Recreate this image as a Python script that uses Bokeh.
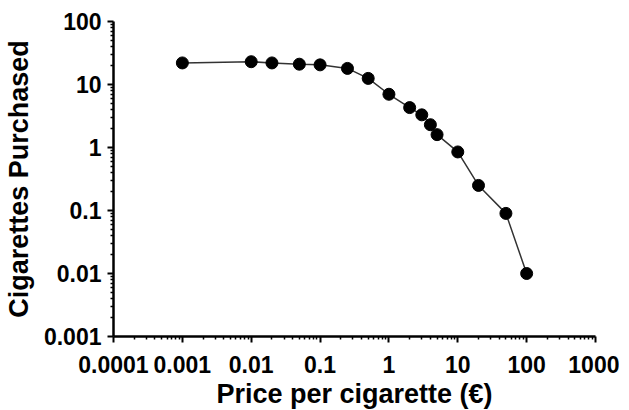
from bokeh.plotting import figure
from bokeh.models import FixedTicker, ColumnDataSource
from bokeh.embed import file_html
from bokeh.resources import INLINE

# Data
price = [0.001, 0.01, 0.02, 0.05, 0.1, 0.25, 0.5, 1, 2, 3, 4, 5, 10, 20, 50, 100]
cigarettes = [22, 23, 22, 21, 20.5, 18, 12.5, 7, 4.3, 3.3, 2.3, 1.6, 0.85, 0.25, 0.09, 0.01]

x_ticks = [0.0001, 0.001, 0.01, 0.1, 1, 10, 100, 1000]
x_labels = ["0.0001", "0.001", "0.01", "0.1", "1", "10", "100", "1000"]
y_ticks = [0.001, 0.01, 0.1, 1, 10, 100]
y_labels = ["0.001", "0.01", "0.1", "1", "10", "100"]

x_title = "Price per cigarette (€)"
y_title = "Cigarettes Purchased"

def minors(ticks):
    out = []
    for t in ticks[:-1]:
        out += [t * k for k in range(2, 10)]
    return out

src = ColumnDataSource(dict(x=price, y=cigarettes))

p = figure(
    frame_width=482, frame_height=315,
    x_axis_type="log", y_axis_type="log",
    x_range=(x_ticks[0], x_ticks[-1]), y_range=(y_ticks[0], y_ticks[-1]),
    output_backend="svg", toolbar_location=None,
    min_border_left=107, min_border_top=21, min_border_right=24, min_border_bottom=60,
)
p.outline_line_color = None
p.xgrid.visible = False
p.ygrid.visible = False
p.background_fill_color = "white"
p.border_fill_color = "white"

p.line("x", "y", source=src, line_color="#333333", line_width=1.5)
p.scatter("x", "y", source=src, size=12, fill_color="black", line_color="black")

p.xaxis.ticker = FixedTicker(ticks=x_ticks, minor_ticks=minors(x_ticks))
p.yaxis.ticker = FixedTicker(ticks=y_ticks, minor_ticks=minors(y_ticks))
p.xaxis.major_label_overrides = {t: l for t, l in zip(x_ticks, x_labels)}
p.yaxis.major_label_overrides = {t: l for t, l in zip(y_ticks, y_labels)}
p.xaxis.axis_label = x_title
p.yaxis.axis_label = y_title

for ax in (p.xaxis, p.yaxis):
    ax.axis_line_width = 2.5
    ax.axis_line_color = "black"
    ax.major_tick_line_width = 2
    ax.major_tick_line_color = "black"
    ax.minor_tick_line_width = 1.5
    ax.minor_tick_line_color = "black"
    ax.major_tick_in = 0
    ax.major_tick_out = 6
    ax.minor_tick_in = 0
    ax.minor_tick_out = 3
    ax.major_label_text_font = "Liberation Sans"
    ax.major_label_text_font_style = "bold"
    ax.major_label_text_font_size = "23px"
    ax.major_label_text_color = "black"
    ax.axis_label_text_font = "Liberation Sans"
    ax.axis_label_text_font_style = "bold"
    ax.axis_label_text_font_size = "27px"
    ax.axis_label_text_color = "black"

p.xaxis.major_label_standoff = 13
p.yaxis.major_label_standoff = 6
p.xaxis.axis_label_standoff = 3
p.yaxis.axis_label_standoff = 7

open("out.html", "w").write(file_html(p, INLINE))
